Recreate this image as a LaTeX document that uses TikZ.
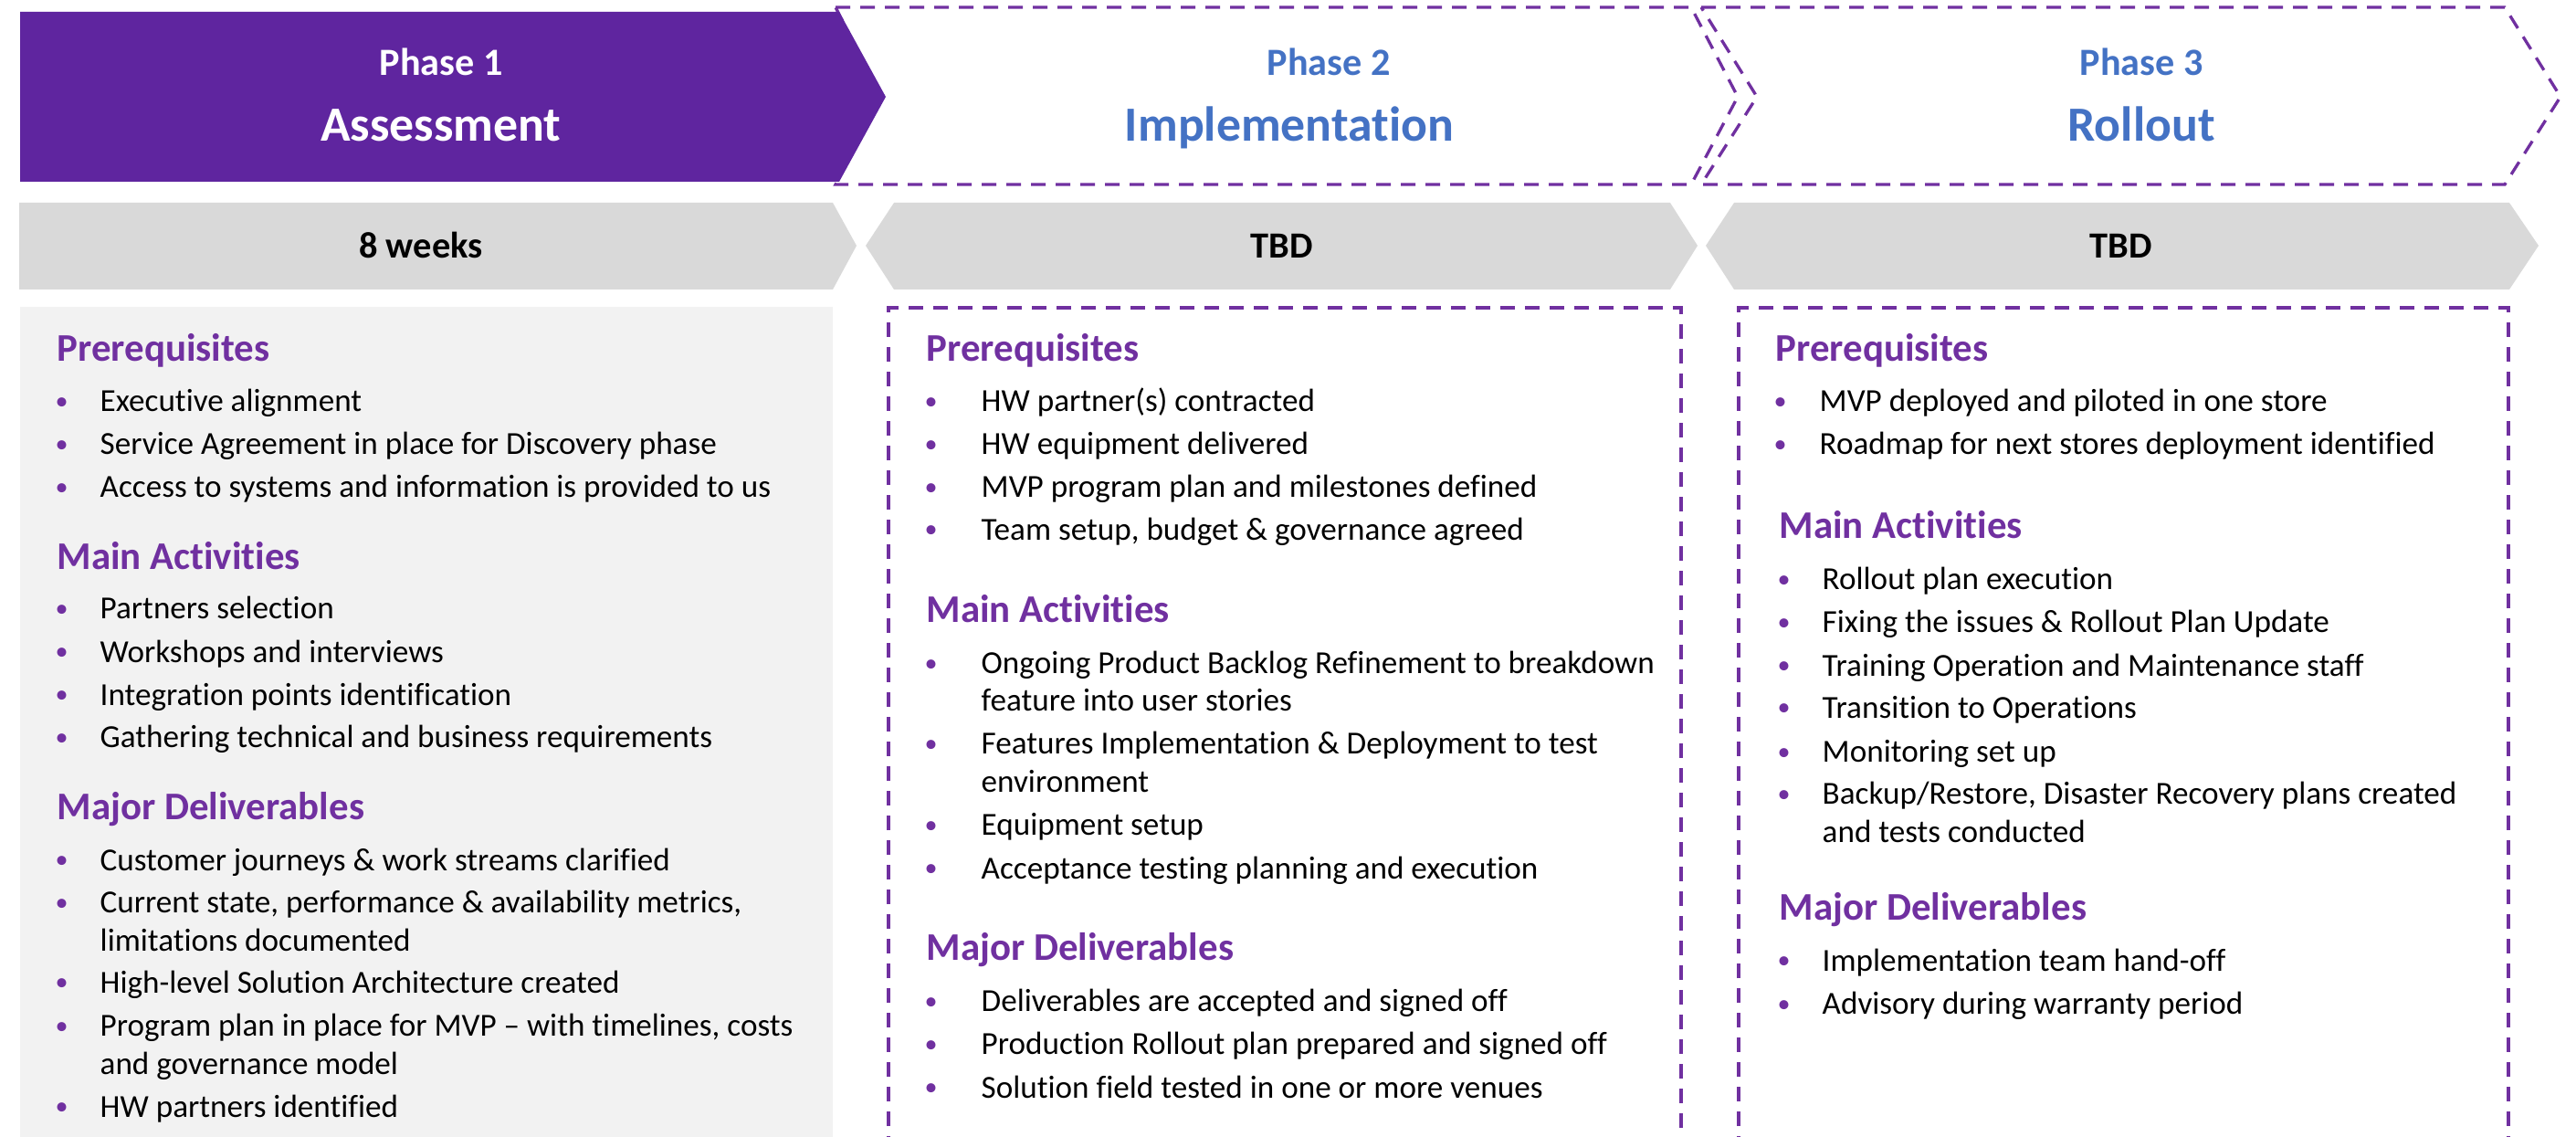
\documentclass[tikz,border=0pt]{standalone}
\usepackage{fontspec}
\setmainfont{Carlito}[Ligatures={TeX,NoCommon}]
\usepackage{tikz}

\definecolor{phasefill}{HTML}{5F259F}
\definecolor{linepurple}{HTML}{7030A0}
\definecolor{phaseblue}{HTML}{4472C4}
\definecolor{chevgray}{HTML}{D9D9D9}
\definecolor{boxgray}{HTML}{F2F2F2}

\tikzset{
    dashline/.style={linepurple, line width=0.033cm, dash pattern=on 0.16cm off 0.11cm},
    phasenum/.style={anchor=base, inner sep=0, font=\bfseries\fontsize{12}{14}\selectfont},
    phasename/.style={anchor=base, inner sep=0, font=\bfseries\fontsize{15.3}{17}\selectfont},
    duration/.style={anchor=base, inner sep=0, font=\bfseries\fontsize{11.5}{13}\selectfont},
    heading/.style={anchor=base west, inner sep=0, text=linepurple, font=\bfseries\fontsize{12.2}{15}\selectfont},
    item/.style={anchor=base west, inner sep=0, align=left, font=\fontsize{10}{11.67}\selectfont}
}
\newcommand{\bul}[1][0.42cm]{\llap{\textcolor{linepurple}{\makebox[0pt]{\raisebox{0.6pt}{\fontsize{8}{8}\selectfont\textbullet}}}\hspace{#1}}}

\begin{document}
\begin{tikzpicture}
            \useasboundingbox (0,0) rectangle (28.21,-12.45);

            \draw [dashline] (9.15,-0.08) -- (18.52,-0.08) -- (19.03,-1.06) -- (18.52,-2.02) -- (9.15,-2.02) -- (9.65,-1.06) -- cycle;
            \draw [dashline] (18.63,-0.08) -- (27.43,-0.08) -- (28.04,-1.06) -- (27.43,-2.02) -- (18.63,-2.02) -- (19.24,-1.06) -- cycle;
            \fill [phasefill] (0.22,-0.13) -- (9.19,-0.13) -- (9.70,-1.06) -- (9.19,-1.99) -- (0.22,-1.99) -- cycle;

            \fill [chevgray] (0.21,-2.22) -- (9.12,-2.22) -- (9.38,-2.69) -- (9.12,-3.17) -- (0.21,-3.17) -- cycle;
            \fill [chevgray] (9.79,-2.22) -- (18.29,-2.22) -- (18.59,-2.69) -- (18.29,-3.17) -- (9.79,-3.17) -- (9.48,-2.69) -- cycle;
            \fill [chevgray] (18.99,-2.22) -- (27.48,-2.22) -- (27.80,-2.69) -- (27.48,-3.17) -- (18.99,-3.17) -- (18.68,-2.69) -- cycle;

            \fill [boxgray] (0.22,-3.36) rectangle (9.12,-12.6);
            \draw [dashline] (9.73,-12.6) -- (9.73,-3.37) -- (18.41,-3.37) -- (18.41,-12.6);
            \draw [dashline] (19.04,-12.6) -- (19.04,-3.37) -- (27.47,-3.37) -- (27.47,-12.6);

            \node [phasenum, white] (ph1) at (4.83,-0.83) {Phase 1};
            \node [phasename, white] (ph1name) at (4.83,-1.55) {Assessment};
            \node [phasenum, phaseblue] (ph2) at (14.55,-0.83) {Phase 2};
            \node [phasename, phaseblue] (ph2name) at (14.12,-1.55) {Implementation};
            \node [phasenum, phaseblue] (ph3) at (23.45,-0.83) {Phase 3};
            \node [phasename, phaseblue] (ph3name) at (23.45,-1.55) {Rollout};

            \node [duration] (dur1) at (4.61,-2.83) {8 weeks};
            \node [duration] (dur2) at (14.04,-2.83) {TBD};
            \node [duration] (dur3) at (23.23,-2.83) {TBD};

            \node [heading] (pre1) at (0.62,-3.955) {Prerequisites};
            \node [item] (pre1a) at (1.09,-4.51) {\bul Executive alignment};
            \node [item] (pre1b) at (1.09,-4.98) {\bul Service Agreement in place for Discovery phase};
            \node [item] (pre1c) at (1.09,-5.45) {\bul Access to systems and information is provided to us};
            \node [heading] (act1) at (0.62,-6.23) {Main Activities};
            \node [item] (act1a) at (1.09,-6.775) {\bul Partners selection};
            \node [item] (act1b) at (1.09,-7.25) {\bul Workshops and interviews};
            \node [item] (act1c) at (1.09,-7.72) {\bul Integration points identification};
            \node [item] (act1d) at (1.09,-8.185) {\bul Gathering technical and business requirements};
            \node [heading] (del1) at (0.62,-8.97) {Major Deliverables};
            \node [item] (del1a) at (1.09,-9.53) {\bul Customer journeys \& work streams clarified};
            \node [item] (del1b) at (1.09,-10.41) {\bul Current state, performance \& availability metrics,\\limitations documented};
            \node [item] (del1c) at (1.09,-10.87) {\bul High-level Solution Architecture created};
            \node [item] (del1d) at (1.09,-11.76) {\bul Program plan in place for MVP – with timelines, costs\\and governance model};
            \node [item] (del1e) at (1.09,-12.23) {\bul HW partners identified};

            \node [heading] (pre2) at (10.14,-3.955) {Prerequisites};
            \node [item] (pre2a) at (10.74,-4.51) {\bul[0.55cm]HW partner(s) contracted};
            \node [item] (pre2b) at (10.74,-4.98) {\bul[0.55cm]HW equipment delivered};
            \node [item] (pre2c) at (10.74,-5.45) {\bul[0.55cm]MVP program plan and milestones defined};
            \node [item] (pre2d) at (10.74,-5.91) {\bul[0.55cm]Team setup, budget \& governance agreed};
            \node [heading] (act2) at (10.14,-6.816) {Main Activities};
            \node [item] (act2a) at (10.74,-7.787) {\bul[0.55cm]Ongoing Product Backlog Refinement to breakdown\\feature into user stories};
            \node [item] (act2b) at (10.74,-8.67) {\bul[0.55cm]Features Implementation \& Deployment to test\\environment};
            \node [item] (act2c) at (10.74,-9.147) {\bul[0.55cm]Equipment setup};
            \node [item] (act2d) at (10.74,-9.62) {\bul[0.55cm]Acceptance testing planning and execution};
            \node [heading] (del2) at (10.14,-10.516) {Major Deliverables};
            \node [item] (del2a) at (10.74,-11.076) {\bul[0.55cm]Deliverables are accepted and signed off};
            \node [item] (del2b) at (10.74,-11.548) {\bul[0.55cm]Production Rollout plan prepared and signed off};
            \node [item] (del2c) at (10.74,-12.02) {\bul[0.55cm]Solution field tested in one or more venues};

            \node [heading] (pre3) at (19.44,-3.955) {Prerequisites};
            \node [item] (pre3a) at (19.92,-4.51) {\bul[0.43cm]MVP deployed and piloted in one store};
            \node [item] (pre3b) at (19.92,-4.98) {\bul[0.43cm]Roadmap for next stores deployment identified};
            \node [heading] (act3) at (19.48,-5.90) {Main Activities};
            \node [item] (act3a) at (19.95,-6.457) {\bul Rollout plan execution};
            \node [item] (act3b) at (19.95,-6.929) {\bul Fixing the issues \& Rollout Plan Update};
            \node [item] (act3c) at (19.95,-7.40) {\bul Training Operation and Maintenance staff};
            \node [item] (act3d) at (19.95,-7.86) {\bul Transition to Operations};
            \node [item] (act3e) at (19.95,-8.345) {\bul Monitoring set up};
            \node [item] (act3f) at (19.95,-9.22) {\bul Backup/Restore, Disaster Recovery plans created\\and tests conducted};
            \node [heading] (del3) at (19.48,-10.07) {Major Deliverables};
            \node [item] (del3a) at (19.95,-10.63) {\bul Implementation team hand-off};
            \node [item] (del3b) at (19.95,-11.105) {\bul Advisory during warranty period};
        \end{tikzpicture}
\end{document}
